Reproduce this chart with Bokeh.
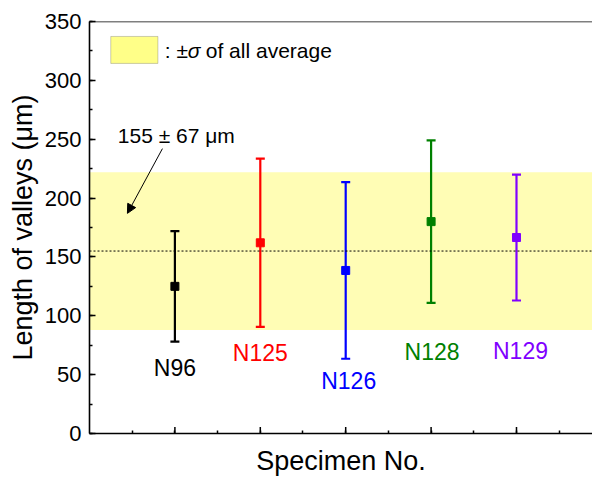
import math
from bokeh.plotting import figure
from bokeh.models import (Range1d, SingleIntervalTicker, FixedTicker, BoxAnnotation,
                          Span, Label, Arrow, NormalHead, ColumnDataSource)
from bokeh.embed import file_html
from bokeh.resources import INLINE

# Valley length per specimen: mean and standard deviation (µm)
specimens = ["N96", "N125", "N126", "N128", "N129"]
positions = [1, 2, 3, 4, 5]
mean_len = [125, 162, 138.5, 180, 166.5]
sd_len = [47, 71.5, 75, 69, 53.5]
colors = ["#000000", "#FF0000", "#0000FF", "#008000", "#8000FF"]

# Average over all specimens
all_mean = 155
all_sd = 67

# Where the specimen names sit (y in data units, x nudge in px)
name_y = [56, 68, 45, 69, 70]
name_dx = [0, 0, 3, 1, 4]

FONT = "Liberation Sans"

p = figure(width=592, height=480, output_backend="svg", toolbar_location=None,
           x_range=Range1d(0, 5.89), y_range=Range1d(0, 350),
           min_border_left=89, min_border_top=21, min_border_bottom=47,
           min_border_right=0, background_fill_color="white",
           border_fill_color="white", outline_line_color=None)
p.grid.visible = False

# Bottom axis: only short half-step ticks come from the axis itself
xa = p.xaxis[0]
xa.ticker = FixedTicker(ticks=[], minor_ticks=[0.5 * k for k in range(1, 12)])
xa.axis_label = "Specimen No."
xa.axis_label_text_font = FONT
xa.axis_label_text_font_size = "27px"
xa.axis_label_text_font_style = "normal"
xa.axis_label_standoff = 12

# Left axis
ya = p.yaxis[0]
ya.ticker = SingleIntervalTicker(interval=50, num_minor_ticks=2)
ya.axis_label = "Length of valleys (\u03bcm)"
ya.axis_label_text_font = FONT
ya.axis_label_text_font_size = "27px"
ya.axis_label_text_font_style = "normal"
ya.axis_label_standoff = 4
ya.major_label_text_font = FONT
ya.major_label_text_font_size = "22px"
ya.major_label_standoff = 8

for ax in (xa, ya):
    ax.axis_line_width = 1.6
    ax.axis_line_color = "black"
    ax.major_tick_in = 6
    ax.major_tick_out = 0
    ax.minor_tick_in = 3
    ax.minor_tick_out = 0
    ax.major_tick_line_width = 1.5
    ax.minor_tick_line_width = 1.5
    ax.major_tick_line_color = "black"
    ax.minor_tick_line_color = "black"
    ax.axis_label_text_color = "black"
    ax.major_label_text_color = "black"

# Top frame line
p.add_layout(Span(location=350, dimension="width", line_color="black",
                  line_width=1.6))

# ±σ band of the overall average and the average itself
p.add_layout(BoxAnnotation(bottom=all_mean - all_sd, top=all_mean + all_sd,
                           fill_color="#FFFDB5", fill_alpha=1.0,
                           line_color=None, level="underlay"))
p.add_layout(Span(location=all_mean, dimension="width", line_color="black",
                  line_width=1, line_dash="2 2"))

src = ColumnDataSource(dict(
    x=positions,
    base=[0] * len(positions),
    mean=mean_len,
    lo=[m - s for m, s in zip(mean_len, sd_len)],
    hi=[m + s for m, s in zip(mean_len, sd_len)],
    color=colors,
))

# Longer ticks at the specimen positions (vertical dashes on the bottom axis)
p.scatter(x="x", y="base", marker="dash", angle=math.pi / 2, size=13,
          line_color="black", line_width=1.5, source=src)

p.segment(x0="x", y0="lo", x1="x", y1="hi", line_color="color",
          line_width=2.2, source=src)
p.scatter(x="x", y="lo", marker="dash", size=9, line_color="color",
          line_width=2.2, source=src)
p.scatter(x="x", y="hi", marker="dash", size=9, line_color="color",
          line_width=2.2, source=src)
p.scatter(x="x", y="mean", marker="square", size=8, fill_color="color",
          line_color="color", source=src)

# Specimen names under the bars
for name, xpos, ypos, dx, c in zip(specimens, positions, name_y, name_dx, colors):
    p.add_layout(Label(x=xpos, y=ypos, x_offset=dx, text=name, text_color=c,
                       text_font=FONT, text_font_size="23px",
                       text_align="center", text_baseline="middle"))

# Legend for the band
p.add_layout(BoxAnnotation(left=0.249, right=0.801, bottom=314.4, top=337.3,
                           fill_color="#FFFF88", fill_alpha=1.0,
                           line_color="#555555", line_width=1))
p.add_layout(Label(x=0.882, y=325.5, text=": \u00b1", text_font=FONT,
                   text_font_size="21px", text_baseline="middle", text_color="black"))
p.add_layout(Label(x=1.150, y=325.5, text="\u03c3", text_font=FONT,
                   text_font_size="21px", text_font_style="italic",
                   text_baseline="middle", text_color="black"))
p.add_layout(Label(x=1.293, y=325.5, text="\u00a0of all average", text_font=FONT,
                   text_font_size="21px", text_baseline="middle", text_color="black"))

# Callout for the overall value
p.add_layout(Label(x=0.331, y=253.2, text="%d \u00b1 %d \u03bcm" % (all_mean, all_sd),
                   text_font=FONT, text_font_size="21px", text_baseline="middle",
                   text_color="black"))
p.add_layout(Arrow(x_start=0.854, y_start=242, x_end=0.444, y_end=187,
                   line_width=1, line_color="black",
                   end=NormalHead(size=9, fill_color="black", line_color="black",
                                  line_width=1)))

open("out.html", "w").write(file_html(p, INLINE))
